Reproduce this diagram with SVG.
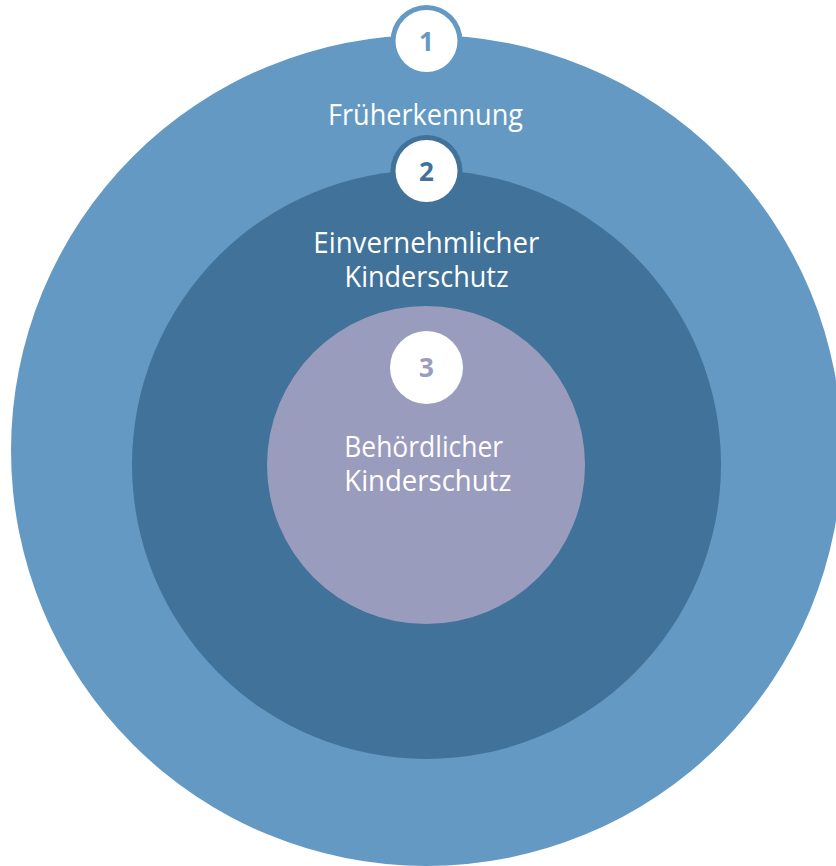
<svg xmlns="http://www.w3.org/2000/svg" width="836" height="866" viewBox="0 0 836 866">
<style>
.lbl{font-family:"Open Sans","Noto Sans",sans-serif;font-size:29px;fill:#ffffff;text-anchor:middle}
.num{font-family:"Open Sans","Noto Sans",sans-serif;font-size:26px;font-weight:bold;text-anchor:middle}
</style>
<rect width="836" height="866" fill="#ffffff"/>
<g id="ring1">
<circle cx="426.5" cy="450.5" r="415.5" fill="#6499C4"/>
<circle cx="426.5" cy="41" r="36" fill="#6499C4"/>
<circle cx="426.5" cy="41" r="31" fill="#ffffff"/>
<text class="num" x="426.5" y="50.5" fill="#6499C4">1</text>
<text class="lbl" x="425.5" y="125" textLength="195" lengthAdjust="spacingAndGlyphs">Früherkennung</text>
</g>
<g id="ring2">
<circle cx="426.5" cy="464.5" r="294.5" fill="#41729A"/>
<circle cx="426.5" cy="171" r="36" fill="#41729A"/>
<circle cx="426.5" cy="171" r="31" fill="#ffffff"/>
<text class="num" x="426.5" y="180.5" fill="#41729A">2</text>
<text class="lbl" x="426.3" y="252.5" textLength="226" lengthAdjust="spacingAndGlyphs">Einvernehmlicher</text>
<text class="lbl" x="426.6" y="287" textLength="164" lengthAdjust="spacingAndGlyphs">Kinderschutz</text>
</g>
<g id="ring3">
<circle cx="426" cy="465" r="159" fill="#9A9CBD"/>
<circle cx="426.5" cy="367.5" r="36.5" fill="#ffffff"/>
<text class="num" x="426.5" y="376.5" fill="#9A9CBD">3</text>
<text class="lbl" x="423.7" y="457" textLength="159" lengthAdjust="spacingAndGlyphs">Behördlicher</text>
<text class="lbl" x="427.8" y="490.5" textLength="167" lengthAdjust="spacingAndGlyphs">Kinderschutz</text>
</g>
<g id="connectors"/>
</svg>
